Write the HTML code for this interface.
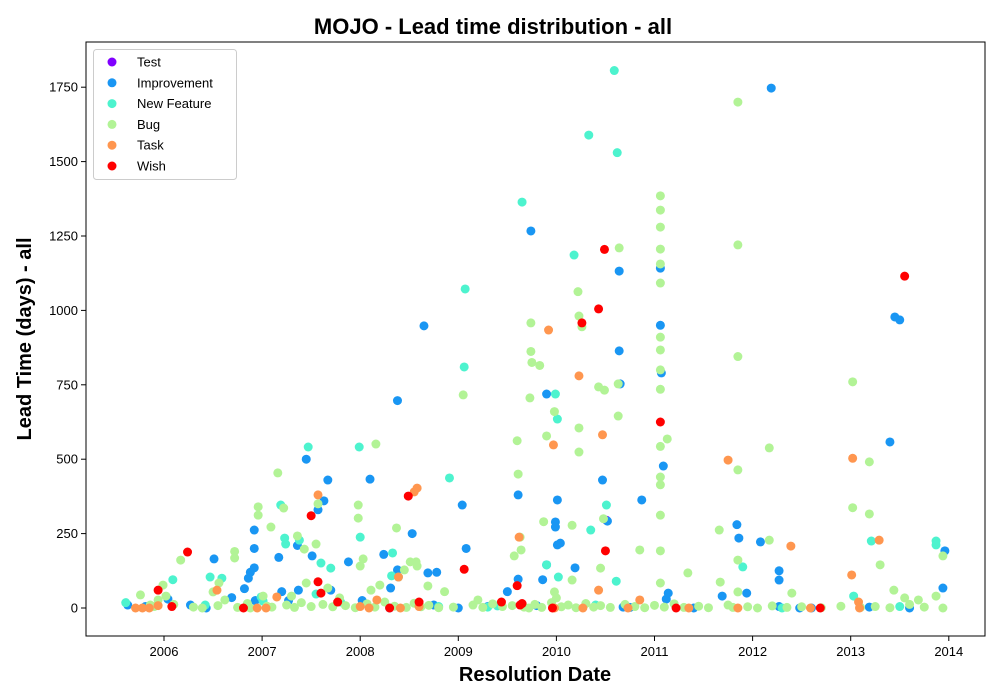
<!DOCTYPE html>
<html><head><meta charset="utf-8">
<style>
body{margin:0;background:#fff;}
svg{display:block;font-family:"Liberation Sans","DejaVu Sans",sans-serif;}
</style></head>
<body>
<svg id="chart" width="1000" height="700" viewBox="0 0 1000 700" xmlns="http://www.w3.org/2000/svg">
<rect x="0" y="0" width="1000" height="700" fill="#fff"/>
<text x="493" y="34" text-anchor="middle" font-size="22" font-weight="bold">MOJO - Lead time distribution - all</text>
<g id="marks"></g>
<rect x="86" y="42" width="899" height="594" fill="none" stroke="#000" stroke-width="1"/>
<g id="xticks"></g><g id="yticks"></g>
<text x="535" y="681" text-anchor="middle" font-size="20" font-weight="bold">Resolution Date</text>
<text transform="translate(31,339) rotate(-90)" text-anchor="middle" font-size="20" font-weight="bold">Lead Time (days) - all</text>
<g id="legend"></g>
</svg>
<script>
const seriesNames=["Test","Improvement","New Feature","Bug","Task","Wish"];
const seriesColors=["#8000ff","#1996f3","#4df3ce","#b2f396","#ff964f","#ff0000"];
const xTickLabels=[2006,2007,2008,2009,2010,2011,2012,2013,2014];
const yTickLabels=[0,250,500,750,1000,1250,1500,1750];
const testData=[[2010.51,295]];
const improvementData=[[2005.63,10],[2005.81,5],[2006.04,30],[2006.27,10],[2006.43,0],[2006.51,165],[2006.69,35],[2006.82,65],[2006.86,100],[2006.88,120],[2006.92,135],[2006.92,200],[2006.92,262],[2006.93,25],[2007.17,170],[2007.2,55],[2007.27,25],[2007.36,210],[2007.37,60],[2007.45,500],[2007.51,175],[2007.57,330],[2007.63,360],[2007.67,430],[2007.7,60],[2007.88,155],[2008.02,25],[2008.1,433],[2008.24,180],[2008.31,67],[2008.38,697],[2008.38,128],[2008.53,250],[2008.65,948],[2008.69,118],[2008.78,120],[2009,0],[2009.04,346],[2009.08,200],[2009.5,55],[2009.61,97],[2009.61,380],[2009.74,1267],[2009.86,95],[2009.9,719],[2009.9,145],[2009.99,289],[2009.99,272],[2010.01,212],[2010.01,363],[2010.04,218],[2010.19,135],[2010.47,430],[2010.52,292],[2010.64,1132],[2010.64,864],[2010.65,753],[2010.68,3],[2010.87,363],[2011.06,1142],[2011.06,950],[2011.07,790],[2011.09,477],[2011.12,30],[2011.14,50],[2011.69,40],[2011.84,280],[2011.86,235],[2011.94,50],[2012.08,222],[2012.19,1747],[2012.27,125],[2012.27,94],[2012.27,5],[2012.48,0],[2013.19,3],[2013.4,558],[2013.45,978],[2013.5,968],[2013.94,67],[2013.96,192],[2008.3,0],[2008.75,10],[2009.3,5],[2009.8,8],[2010.75,2],[2011.4,0],[2012.6,0],[2013.6,0]];
const newFeatureData=[[2005.61,18],[2006.09,95],[2006.42,10],[2006.47,104],[2006.59,100],[2006.99,37],[2007.01,23],[2007.19,346],[2007.23,235],[2007.24,215],[2007.38,228],[2007.47,541],[2007.55,47],[2007.6,151],[2007.7,134],[2007.99,541],[2008,238],[2008.32,108],[2008.33,185],[2008.39,104],[2008.91,437],[2009.06,810],[2009.07,1072],[2009.4,7],[2009.65,1364],[2009.9,145],[2009.99,719],[2010.01,635],[2010.02,104],[2010.18,1186],[2010.33,1589],[2010.35,262],[2010.51,346],[2010.59,1806],[2010.62,1530],[2010.61,90],[2011.9,138],[2013.03,40],[2013.21,225],[2013.87,212],[2013.87,225],[2007.8,20],[2008.8,5],[2009.3,3],[2010.4,10],[2012.3,0],[2013.5,5]];
const bugData=[[2005.76,44],[2005.86,10],[2005.94,27],[2005.99,77],[2006.02,40],[2006.17,161],[2006.39,0],[2006.5,54],[2006.56,84],[2006.62,27],[2006.72,190],[2006.72,168],[2006.88,0],[2006.96,340],[2006.96,312],[2007.01,40],[2007.09,272],[2007.16,454],[2007.22,336],[2007.3,40],[2007.36,242],[2007.43,198],[2007.45,84],[2007.55,215],[2007.57,350],[2007.67,67],[2007.79,34],[2007.98,346],[2007.98,302],[2008,141],[2008.03,165],[2008.11,60],[2008.16,551],[2008.2,77],[2008.37,269],[2008.45,128],[2008.51,155],[2008.57,155],[2008.58,141],[2008.69,74],[2008.86,55],[2009.05,716],[2009.2,27],[2009.57,175],[2009.6,562],[2009.61,450],[2009.63,238],[2009.64,195],[2009.73,706],[2009.74,958],[2009.74,862],[2009.75,825],[2009.83,815],[2009.87,290],[2009.9,578],[2009.98,660],[2009.98,54],[2010.0,34],[2010.16,278],[2010.16,94],[2010.22,1063],[2010.23,981],[2010.23,605],[2010.23,524],[2010.26,945],[2010.43,743],[2010.49,732],[2010.48,300],[2010.45,134],[2010.64,1210],[2010.63,645],[2010.63,753],[2010.85,195],[2011.06,1385],[2011.06,1337],[2011.06,1280],[2011.06,1206],[2011.06,1156],[2011.06,1092],[2011.06,910],[2011.06,867],[2011.06,800],[2011.06,735],[2011.06,543],[2011.06,440],[2011.06,414],[2011.06,312],[2011.06,192],[2011.06,84],[2011.13,568],[2011.34,118],[2011.66,262],[2011.67,87],[2011.85,1700],[2011.85,1220],[2011.85,845],[2011.85,464],[2011.85,161],[2011.85,54],[2012.17,538],[2012.17,228],[2012.4,50],[2013.02,760],[2013.02,337],[2013.19,491],[2013.19,316],[2013.3,145],[2013.44,60],[2013.55,34],[2013.69,27],[2013.87,40],[2013.94,175],[2013.94,0],
[2005.9,5],[2006.1,12],[2006.3,3],[2006.55,8],[2006.75,2],[2006.85,15],[2007.05,6],[2007.1,3],[2007.25,10],[2007.33,2],[2007.4,18],[2007.5,5],[2007.62,12],[2007.72,4],[2007.85,8],[2007.95,1],[2008.07,14],[2008.15,3],[2008.25,20],[2008.35,6],[2008.47,2],[2008.55,16],[2008.62,4],[2008.7,9],[2008.8,1],[2008.95,3],[2009.15,10],[2009.25,2],[2009.35,14],[2009.45,5],[2009.55,8],[2009.67,3],[2009.72,0],[2009.78,12],[2009.85,2],[2009.95,18],[2010.05,4],[2010.12,10],[2010.2,1],[2010.3,15],[2010.38,3],[2010.45,8],[2010.55,2],[2010.7,12],[2010.8,5],[2010.9,1],[2011.0,9],[2011.1,3],[2011.2,14],[2011.3,2],[2011.45,6],[2011.55,1],[2011.75,10],[2011.8,2],[2011.95,4],[2012.05,0],[2012.2,7],[2012.35,2],[2012.5,4],[2012.7,1],[2012.9,6],[2013.1,2],[2013.25,5],[2013.4,1],[2013.6,12],[2013.75,3]];
const taskData=[[2005.71,0],[2005.78,0],[2005.85,0],[2005.94,8],[2006.54,60],[2006.95,0],[2007.04,0],[2007.15,37],[2007.57,380],[2008.09,0],[2008.17,27],[2008.39,104],[2008.41,0],[2008.55,390],[2008.58,403],[2009.92,934],[2009.97,548],[2009.98,0],[2009.62,238],[2010.23,780],[2010.27,0],[2010.43,60],[2010.47,582],[2010.73,0],[2010.85,27],[2011.75,497],[2011.85,0],[2012.39,208],[2012.59,0],[2013.01,111],[2013.02,503],[2013.08,20],[2013.09,0],[2013.29,228],[2008.0,5],[2008.6,5],[2011.35,0]];
const wishData=[[2005.94,60],[2006.08,5],[2006.24,188],[2006.81,0],[2007.5,310],[2007.57,88],[2007.6,50],[2007.77,20],[2008.3,0],[2008.49,376],[2008.6,20],[2009.06,130],[2009.44,20],[2009.6,75],[2009.63,10],[2009.65,15],[2009.96,0],[2010.26,958],[2010.43,1005],[2010.49,1205],[2010.5,192],[2011.06,625],[2011.22,0],[2012.69,0],[2013.55,1115]];
const allData=[testData,improvementData,newFeatureData,bugData,taskData,wishData];

const NS="http://www.w3.org/2000/svg";
function xScale(v){return 164+(v-2006)*98.1;}
function yScale(v){return 608-v*0.2976;}
const marks=document.getElementById('marks');
allData.forEach(function(data,si){
  data.forEach(function(d){
    const c=document.createElementNS(NS,'circle');
    c.setAttribute('cx',xScale(d[0]));c.setAttribute('cy',yScale(d[1]));
    c.setAttribute('r',4.5);c.setAttribute('fill',seriesColors[si]);
    
    
    marks.appendChild(c);
  });
});
const xt=document.getElementById('xticks');
xTickLabels.forEach(function(t){
  const x=xScale(t);
  const l=document.createElementNS(NS,'line');
  l.setAttribute('x1',x);l.setAttribute('x2',x);l.setAttribute('y1',636);l.setAttribute('y2',641);l.setAttribute('stroke','#000');
  
  
  xt.appendChild(l);
  const tx=document.createElementNS(NS,'text');
  tx.setAttribute('x',x);tx.setAttribute('y',656);tx.setAttribute('text-anchor','middle');tx.setAttribute('font-size','13');
  tx.textContent=t;
  
  
  xt.appendChild(tx);
});
const yt=document.getElementById('yticks');
yTickLabels.forEach(function(t){
  const y=yScale(t);
  const l=document.createElementNS(NS,'line');
  l.setAttribute('x1',81);l.setAttribute('x2',86);l.setAttribute('y1',y);l.setAttribute('y2',y);l.setAttribute('stroke','#000');
  
  
  yt.appendChild(l);
  const tx=document.createElementNS(NS,'text');
  tx.setAttribute('x',78);tx.setAttribute('y',y+4.5);tx.setAttribute('text-anchor','end');tx.setAttribute('font-size','13');
  tx.textContent=t;
  
  
  yt.appendChild(tx);
});
const lg=document.getElementById('legend');
const box=document.createElementNS(NS,'rect');
box.setAttribute('x',93.5);box.setAttribute('y',49.5);box.setAttribute('width',143);box.setAttribute('height',130);box.setAttribute('rx',3);
box.setAttribute('fill','#fff');box.setAttribute('fill-opacity','0.8');box.setAttribute('stroke','#ccc');


lg.appendChild(box);
seriesNames.forEach(function(n,i){
  const y=62+i*20.8;
  const c=document.createElementNS(NS,'circle');
  c.setAttribute('cx',112);c.setAttribute('cy',y);c.setAttribute('r',4.5);c.setAttribute('fill',seriesColors[i]);
  
  
  lg.appendChild(c);
  const t=document.createElementNS(NS,'text');
  t.setAttribute('x',137);t.setAttribute('y',y+4.5);t.setAttribute('font-size','13');t.textContent=n;
  
  
  lg.appendChild(t);
});
</script>
</body></html>
